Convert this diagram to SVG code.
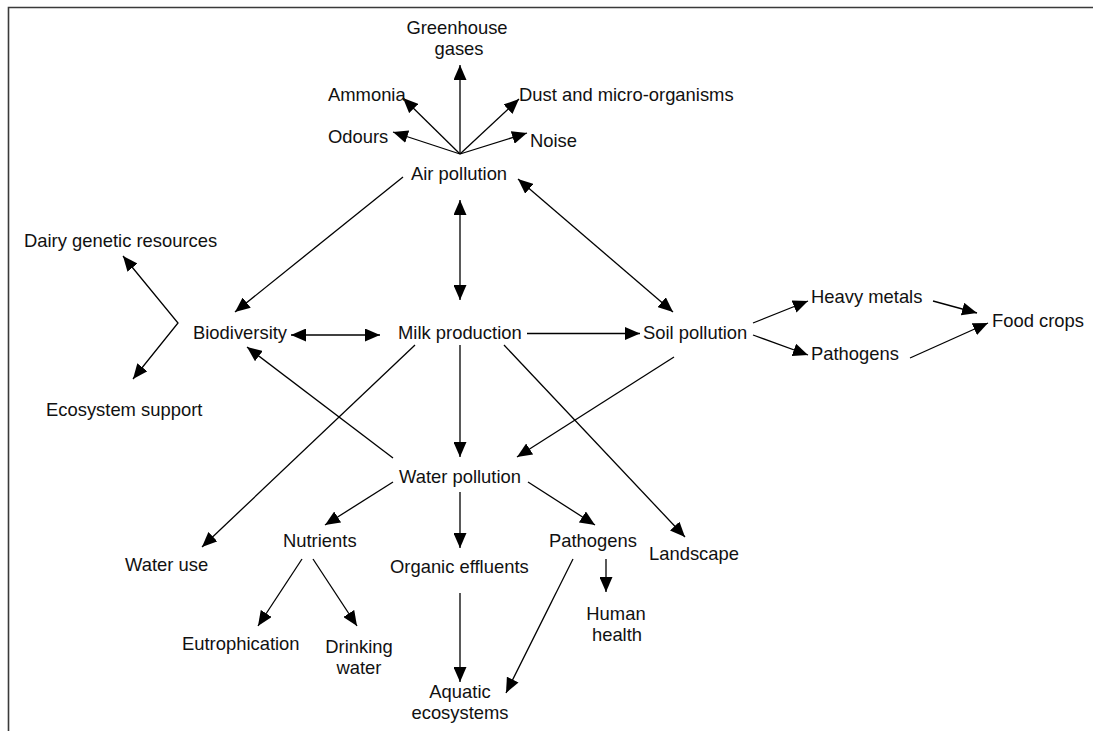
<svg xmlns="http://www.w3.org/2000/svg" width="1093" height="731" viewBox="0 0 1093 731">
<style>
text{font-family:"Liberation Sans",Arial,sans-serif;font-size:18.4px;fill:#111}
.c{text-anchor:middle}
#connectors line,#connectors path{stroke:#000;stroke-width:1.3;fill:none}
.a{marker-end:url(#ah)}
.b{marker-start:url(#ah);marker-end:url(#ah)}
</style>
<defs>
<marker id="ah" markerUnits="userSpaceOnUse" viewBox="0 0 15 13" refX="15" refY="6.5" markerWidth="15" markerHeight="13" orient="auto-start-reverse">
<path d="M0,0 L15,6.5 L0,13 z" fill="#000"/>
</marker>
</defs>
<rect width="1093" height="731" fill="#fff"/>
<path d="M8.5,731 V7.5 H1093" fill="none" stroke="#3a3a3a" stroke-width="1.6"/>
<g id="connectors">
<line class="a" x1="460" y1="154" x2="460" y2="65"/>
<line class="a" x1="460" y1="154" x2="403" y2="98"/>
<line class="a" x1="460" y1="154" x2="393" y2="132"/>
<line class="a" x1="460" y1="154" x2="519" y2="99"/>
<line class="a" x1="460" y1="154" x2="527" y2="133"/>
<line class="a" x1="403" y1="177" x2="235" y2="312"/>
<line class="b" x1="460" y1="200" x2="460" y2="300"/>
<line class="b" x1="518" y1="179" x2="673" y2="312"/>
<line class="b" x1="291" y1="335" x2="380" y2="335"/>
<path class="b" d="M123,256 L178,323 L133,379"/>
<line class="a" x1="527" y1="333.5" x2="640" y2="333.5"/>
<line class="a" x1="460" y1="345" x2="460" y2="457"/>
<line class="a" x1="415" y1="345" x2="202" y2="547"/>
<line class="a" x1="504" y1="345" x2="685" y2="537"/>
<line class="a" x1="674" y1="357" x2="517" y2="457"/>
<line class="a" x1="393" y1="458" x2="247" y2="347"/>
<line class="a" x1="753" y1="323" x2="808" y2="301"/>
<line class="a" x1="753" y1="335" x2="808" y2="355"/>
<line class="a" x1="933" y1="301" x2="977" y2="313"/>
<line class="a" x1="910" y1="358" x2="988" y2="323"/>
<line class="a" x1="393" y1="482" x2="325" y2="525"/>
<line class="a" x1="460" y1="492" x2="460" y2="548"/>
<line class="a" x1="528" y1="482" x2="595" y2="525"/>
<line class="a" x1="302" y1="559" x2="258" y2="626"/>
<line class="a" x1="313" y1="559" x2="357" y2="626"/>
<line class="a" x1="460" y1="593" x2="460" y2="682"/>
<line class="a" x1="573" y1="559" x2="506" y2="693"/>
<line class="a" x1="606" y1="559" x2="606" y2="592"/>
</g>
<g id="greenhouse"><text class="c" x="457" y="34">Greenhouse</text><text class="c" x="459" y="55">gases</text></g>
<g id="ammonia"><text x="328" y="101">Ammonia</text></g>
<g id="dust"><text x="519" y="101">Dust and micro-organisms</text></g>
<g id="odours"><text x="328" y="143">Odours</text></g>
<g id="noise"><text x="530" y="147">Noise</text></g>
<g id="air"><text x="411" y="180">Air pollution</text></g>
<g id="dairy"><text x="24" y="247">Dairy genetic resources</text></g>
<g id="biodiversity"><text x="193" y="339">Biodiversity</text></g>
<g id="ecosystem"><text x="46" y="416">Ecosystem support</text></g>
<g id="milk"><text x="398" y="339">Milk production</text></g>
<g id="soil"><text x="643" y="339">Soil pollution</text></g>
<g id="heavy"><text x="811" y="303">Heavy metals</text></g>
<g id="soilpath"><text x="811" y="360">Pathogens</text></g>
<g id="food"><text x="992" y="327">Food crops</text></g>
<g id="water"><text x="399" y="483">Water pollution</text></g>
<g id="wateruse"><text x="125" y="571">Water use</text></g>
<g id="nutrients"><text x="283" y="547">Nutrients</text></g>
<g id="organic"><text x="390" y="573">Organic effluents</text></g>
<g id="waterpath"><text x="549" y="547">Pathogens</text></g>
<g id="landscape"><text x="649" y="560">Landscape</text></g>
<g id="eutro"><text x="182" y="650">Eutrophication</text></g>
<g id="drinking"><text class="c" x="359" y="653">Drinking</text><text class="c" x="359" y="674">water</text></g>
<g id="aquatic"><text class="c" x="460" y="698">Aquatic</text><text class="c" x="460" y="719">ecosystems</text></g>
<g id="human"><text class="c" x="616" y="620">Human</text><text class="c" x="617" y="641">health</text></g>
</svg>
